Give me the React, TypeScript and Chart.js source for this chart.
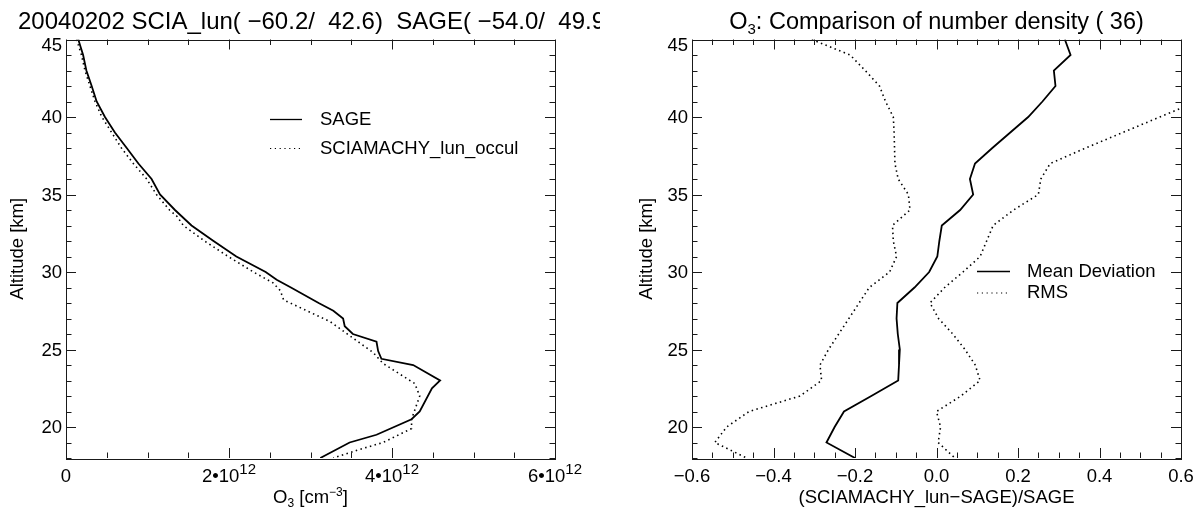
import React, { useEffect, useRef } from "react";
import { Chart, registerables } from "chart.js";

Chart.register(...registerables);

// ---------- data (left panel: O3 number density in units of 1e12 cm^-3) ----------
const sageAlt = [45, 44, 43, 42, 41, 40, 39, 38, 37, 36, 35, 34, 33, 32, 31, 30, 29.5, 29, 28, 27.5, 27, 26.5, 26, 25.5, 24.9, 24.4, 24, 23, 22.5, 21, 20.5, 19.5, 19, 18];
const sageO3 = [0.151, 0.21, 0.25, 0.315, 0.376, 0.478, 0.6, 0.745, 0.888, 1.05, 1.153, 1.337, 1.54, 1.81, 2.09, 2.45, 2.585, 2.76, 3.1, 3.28, 3.4, 3.42, 3.52, 3.81, 3.83, 3.87, 4.26, 4.59, 4.49, 4.34, 4.24, 3.81, 3.48, 3.12];

const sciaAlt = [45, 44, 43, 42, 41, 40, 39, 38, 37, 36, 35, 34, 33.6, 33, 32, 31, 30, 29.3, 28.8, 28.2, 26.8, 24.8, 24.1, 22.8, 22, 20.5, 19.9, 19, 18.5, 18];
const sciaO3 = [0.13, 0.19, 0.233, 0.294, 0.356, 0.44, 0.56, 0.68, 0.826, 0.99, 1.11, 1.27, 1.36, 1.44, 1.7, 1.99, 2.3, 2.54, 2.63, 2.67, 3.24, 3.77, 3.89, 4.28, 4.34, 4.24, 4.24, 3.89, 3.57, 3.28];

// ---------- data (right panel: relative deviation) ----------
const devAlt = [45, 44, 43, 42, 41, 40, 39, 38, 37, 36, 35, 34, 33, 32, 31, 30, 29, 28, 27, 26, 25, 24, 23, 22, 21, 20, 19, 18];
const meanDev = [0.315, 0.329, 0.288, 0.292, 0.26, 0.225, 0.181, 0.137, 0.0945, 0.082, 0.09, 0.058, 0.013, 0.007, 0.002, -0.018, -0.054, -0.096, -0.098, -0.095, -0.09, -0.092, -0.094, -0.16, -0.227, -0.25, -0.27, -0.2];
const rmsLow = [-0.306, -0.212, -0.175, -0.14, -0.125, -0.106, -0.104, -0.103, -0.102, -0.094, -0.069, -0.065, -0.108, -0.106, -0.098, -0.115, -0.165, -0.19, -0.215, -0.24, -0.265, -0.286, -0.282, -0.335, -0.46, -0.515, -0.544, -0.466];
const rmsHighAlt = [41, 40, 39, 38, 37, 36, 35, 34, 33, 32, 31, 30, 29, 28, 27, 26, 25, 24, 23, 22, 21, 20, 19, 18];
const rmsHigh = [0.64, 0.548, 0.457, 0.366, 0.279, 0.256, 0.25, 0.189, 0.139, 0.123, 0.107, 0.065, 0.02, -0.016, 0.005, 0.04, 0.07, 0.095, 0.107, 0.06, 0.0, 0.01, 0.004, 0.045];

// ---------- ticks ----------
const yMajorTicks = [20, 25, 30, 35, 40, 45];
const yTickLabels = ["20", "25", "30", "35", "40", "45"];
const leftXMajor = [0, 2, 4, 6];
const leftXLabelBase = ["0", "2\u202210", "4\u202210", "6\u202210"];
const leftXLabelExp = ["", "12", "12", "12"];
const rightXMajor = [-0.6, -0.4, -0.2, 0.0, 0.2, 0.4, 0.6];
const rightXLabels = ["\u22120.6", "\u22120.4", "\u22120.2", "0.0", "0.2", "0.4", "0.6"];

const FAMILY = "'Liberation Sans', Arial, Helvetica, sans-serif";
const TICK_SIZE = 18.5;
const TITLE_SIZE = 23.5;

type Seg = { t: string; size: number; dy: number };

function drawRich(ctx: CanvasRenderingContext2D, segs: Seg[], x: number, y: number, align: "left" | "center") {
  let total = 0;
  for (const s of segs) {
    ctx.font = `${s.size}px ${FAMILY}`;
    total += ctx.measureText(s.t).width;
  }
  let cx = align === "center" ? x - total / 2 : x;
  ctx.textAlign = "left";
  ctx.textBaseline = "alphabetic";
  for (const s of segs) {
    ctx.font = `${s.size}px ${FAMILY}`;
    ctx.fillText(s.t, cx, y + s.dy);
    cx += ctx.measureText(s.t).width;
  }
}

type PanelCfg = {
  xMajor: number[];
  xMinorStep: number;
  xMin: number;
  xMax: number;
  xLabels: Seg[][];
  title: Seg[];
  titleAlign: "left" | "center";
  titleX: number | null;
  xTitle: Seg[];
  yTitleX: number;
  legend: { label: string; dashed: boolean; x0: number; x1: number; tx: number; y: number }[];
};

function range(a: number, b: number, step: number) {
  const out: number[] = [];
  const n = Math.round((b - a) / step);
  for (let i = 0; i <= n; i++) out.push(a + i * step);
  return out;
}

function makePlugin(cfg: PanelCfg) {
  return {
    id: "idlAxes",
    afterDatasetsDraw(chart: any) {
      const ctx: CanvasRenderingContext2D = chart.ctx;
      const { left, right, top, bottom } = chart.chartArea;
      const xs = chart.scales.x;
      const ys = chart.scales.y;
      ctx.save();
      ctx.strokeStyle = "#1a1a1a";
      ctx.lineWidth = 1;
      ctx.setLineDash([]);
      ctx.strokeRect(Math.round(left) + 0.5, Math.round(top) + 0.5, Math.round(right - left), Math.round(bottom - top));
      const MAJ = 10;
      const MIN = 5.5;
      const xMinor = range(cfg.xMin, cfg.xMax, cfg.xMinorStep);
      ctx.beginPath();
      for (const v of xMinor) {
        const isMajor = cfg.xMajor.some((m) => Math.abs(m - v) < 1e-9);
        const len = isMajor ? MAJ : MIN;
        const px = Math.round(xs.getPixelForValue(v)) + 0.5;
        ctx.moveTo(px, bottom);
        ctx.lineTo(px, bottom - len);
        ctx.moveTo(px, top);
        ctx.lineTo(px, top + len);
      }
      for (const v of range(18, 45, 1)) {
        const isMajor = yMajorTicks.includes(v);
        const len = isMajor ? MAJ : MIN;
        const py = Math.round(ys.getPixelForValue(v)) + 0.5;
        ctx.moveTo(left, py);
        ctx.lineTo(left + len, py);
        ctx.moveTo(right, py);
        ctx.lineTo(right - len, py);
      }
      ctx.stroke();
      ctx.restore();
    },
    afterDraw(chart: any) {
      const ctx: CanvasRenderingContext2D = chart.ctx;
      const { left, right, top, bottom } = chart.chartArea;
      const xs = chart.scales.x;
      const ys = chart.scales.y;
      ctx.save();
      ctx.fillStyle = "#000";
      ctx.font = `${TICK_SIZE}px ${FAMILY}`;
      ctx.textAlign = "right";
      ctx.textBaseline = "middle";
      yMajorTicks.forEach((v, i) => {
        const py = Math.max(ys.getPixelForValue(v), top + 5.5);
        ctx.fillText(yTickLabels[i], left - 4, py + 1);
      });
      cfg.xMajor.forEach((v, i) => {
        drawRich(ctx, cfg.xLabels[i], xs.getPixelForValue(v), bottom + 24, "center");
      });
      drawRich(ctx, cfg.title, cfg.titleX ?? (left + right) / 2, 29, cfg.titleAlign);
      drawRich(ctx, cfg.xTitle, (left + right) / 2, bottom + 45, "center");
      ctx.save();
      ctx.translate(cfg.yTitleX, (top + bottom) / 2);
      ctx.rotate(-Math.PI / 2);
      ctx.font = `${TICK_SIZE}px ${FAMILY}`;
      ctx.textAlign = "center";
      ctx.textBaseline = "middle";
      ctx.fillText("Altitude [km]", 0, 0);
      ctx.restore();
      for (const e of cfg.legend) {
        ctx.beginPath();
        ctx.strokeStyle = "#000";
        if (e.dashed) {
          ctx.lineWidth = 1.2;
          ctx.setLineDash([1.2, 3.6]);
        } else {
          ctx.lineWidth = 1.3;
          ctx.setLineDash([]);
        }
        ctx.moveTo(e.x0, e.y);
        ctx.lineTo(e.x1, e.y);
        ctx.stroke();
        ctx.setLineDash([]);
        ctx.font = `${TICK_SIZE}px ${FAMILY}`;
        ctx.textAlign = "left";
        ctx.textBaseline = "middle";
        ctx.fillText(e.label, e.tx, e.y);
      }
      ctx.restore();
    },
  };
}

function pts(alt: number[], vals: number[]) {
  return alt.map((a, i) => ({ x: vals[i], y: a }));
}

const SOLID = { borderColor: "#000", borderWidth: 1.8, pointRadius: 0, showLine: true, fill: false, tension: 0 };
const DOTTED = { borderColor: "#000", borderWidth: 1.6, borderDash: [1.5, 3.4], pointRadius: 0, showLine: true, fill: false, tension: 0 };

function baseOptions(padding: any, xMin: number, xMax: number) {
  return {
    animation: false,
    responsive: false,
    maintainAspectRatio: false,
    layout: { padding },
    plugins: { legend: { display: false }, tooltip: { enabled: false }, title: { display: false } },
    scales: {
      x: { type: "linear", min: xMin, max: xMax, display: false },
      y: { type: "linear", min: 18, max: 45, display: false },
    },
  } as any;
}

export default function App() {
  const leftRef = useRef<HTMLCanvasElement | null>(null);
  const rightRef = useRef<HTMLCanvasElement | null>(null);

  useEffect(() => {
    const leftCfg: PanelCfg = {
      xMajor: leftXMajor,
      xMinorStep: 0.5,
      xMin: 0,
      xMax: 6,
      xLabels: leftXMajor.map((_, i) => [
        { t: leftXLabelBase[i], size: TICK_SIZE, dy: 0 },
        { t: leftXLabelExp[i], size: 15, dy: -8 },
      ]),
      title: [{ t: "20040202 SCIA_lun( \u221260.2/  42.6)  SAGE( \u221254.0/  49.9)", size: 24, dy: 0 }],
      titleAlign: "left",
      titleX: 18,
      xTitle: [
        { t: "O", size: TICK_SIZE, dy: 0 },
        { t: "3", size: 12, dy: 4 },
        { t: " [cm", size: TICK_SIZE, dy: 0 },
        { t: "\u22123", size: 12, dy: -7 },
        { t: "]", size: TICK_SIZE, dy: 0 },
      ],
      yTitleX: 18,
      legend: [
        { label: "SAGE", dashed: false, x0: 270, x1: 302, tx: 320, y: 119.5 },
        { label: "SCIAMACHY_lun_occul", dashed: true, x0: 270, x1: 302, tx: 320, y: 148.5 },
      ],
    };
    const rightCfg: PanelCfg = {
      xMajor: rightXMajor,
      xMinorStep: 0.05,
      xMin: -0.6,
      xMax: 0.6,
      xLabels: rightXLabels.map((t) => [{ t, size: TICK_SIZE, dy: 0 }]),
      title: [
        { t: "O", size: TITLE_SIZE, dy: 0 },
        { t: "3", size: 15, dy: 5 },
        { t: ": Comparison of number density ( 36)", size: TITLE_SIZE, dy: 0 },
      ],
      titleAlign: "center",
      titleX: null,
      xTitle: [{ t: "(SCIAMACHY_lun\u2212SAGE)/SAGE", size: TICK_SIZE, dy: 0 }],
      yTitleX: 47,
      legend: [
        { label: "Mean Deviation", dashed: false, x0: 377, x1: 410, tx: 427, y: 271.5 },
        { label: "RMS", dashed: true, x0: 377, x1: 410, tx: 427, y: 293 },
      ],
    };

    const left = new Chart(leftRef.current!, {
      type: "scatter",
      data: {
        datasets: [
          { label: "SAGE", data: pts(sageAlt, sageO3), ...SOLID },
          { label: "SCIAMACHY_lun_occul", data: pts(sciaAlt, sciaO3), ...DOTTED },
        ],
      } as any,
      options: baseOptions({ left: 66, right: 45, top: 39.5, bottom: 51 }, 0, 6),
      plugins: [makePlugin(leftCfg)],
    });
    const right = new Chart(rightRef.current!, {
      type: "scatter",
      data: {
        datasets: [
          { label: "Mean Deviation", data: pts(devAlt, meanDev), ...SOLID },
          { label: "RMS", data: pts(devAlt, rmsLow), ...DOTTED },
          { label: "RMS+", data: pts(rmsHighAlt, rmsHigh), ...DOTTED },
        ],
      } as any,
      options: baseOptions({ left: 92, right: 22, top: 39.5, bottom: 51 }, -0.6, 0.6),
      plugins: [makePlugin(rightCfg)],
    });
    return () => {
      left.destroy();
      right.destroy();
    };
  }, []);

  return (
    <div style={{ position: "absolute", left: 0, top: 0, width: 1203, height: 509, background: "#fff" }}>
      <canvas ref={leftRef} width={600} height={509} style={{ position: "absolute", left: 0, top: 0, width: 600, height: 509 }} />
      <canvas ref={rightRef} width={603} height={509} style={{ position: "absolute", left: 600, top: 0, width: 603, height: 509 }} />
    </div>
  );
}
